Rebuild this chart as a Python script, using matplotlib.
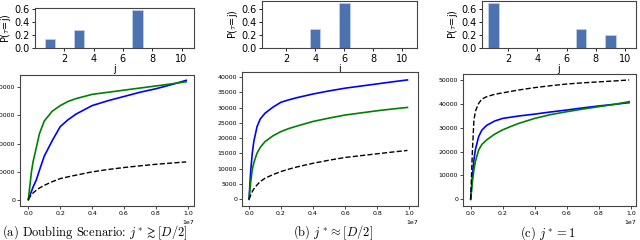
import numpy as np
import matplotlib
matplotlib.use("Agg")
import matplotlib.pyplot as plt

plt.rcParams['mathtext.fontset'] = 'cm'

# top row: P(tau = j)
bar_j_a = [1, 3, 7]
bar_p_a = [0.14, 0.28, 0.58]
bar_j_b = [4, 6]
bar_p_b = [0.30, 0.70]
bar_j_c = [1, 7, 9]
bar_p_c = [0.70, 0.30, 0.20]

# bottom row: curves (x in units of 1e7)
xs = [0, 0.01, 0.02, 0.03, 0.05, 0.07, 0.1, 0.15, 0.2, 0.25, 0.3, 0.4, 0.5, 0.6, 0.7, 0.8, 0.9, 0.99]

blue_a = [0, 3000, 6000, 9000, 14000, 21000, 31000, 42000, 52000, 57000, 61000, 67000, 70500, 73500, 76500, 79000, 82000, 85000]
green_a = [0, 10000, 20000, 27000, 37000, 47000, 56000, 63000, 67000, 70000, 72000, 75000, 76500, 78000, 79500, 81000, 82500, 84000]
black_a = [0, 2000, 3500, 4800, 6700, 8300, 10200, 12800, 15000, 16300, 17500, 19800, 21500, 22900, 24100, 25200, 26100, 26900]

blue_b = [0, 9000, 15000, 19000, 23800, 26300, 28200, 30200, 31800, 32600, 33300, 34500, 35500, 36400, 37100, 37800, 38500, 39100]
green_b = [0, 5500, 9600, 12000, 15100, 17000, 18900, 20800, 22200, 23200, 24000, 25500, 26600, 27600, 28300, 29000, 29600, 30100]
black_b = [0, 1300, 2500, 3400, 4700, 5800, 6900, 8100, 9100, 9900, 10600, 11800, 12800, 13700, 14300, 14900, 15500, 16000]

blue_c = [0, 9000, 16500, 21000, 26300, 29000, 31000, 32800, 33900, 34400, 34900, 35700, 36600, 37400, 38300, 39100, 39800, 40500]
green_c = [0, 7000, 12300, 16000, 20700, 23000, 24900, 27300, 29100, 30500, 31800, 33900, 35500, 36700, 37800, 38800, 39800, 40900]
black_c = [0, 19000, 33000, 37000, 40200, 42000, 43000, 44000, 44600, 45200, 45800, 46800, 47600, 48300, 48800, 49200, 49600, 50000]

captions = [r"(a) Doubling Scenario: $j^* \gtrsim [D/2]$",
            r"(b) $j^* \approx [D/2]$",
            r"(c) $j^* = 1$"]

W, H = 640, 240
fig = plt.figure(figsize=(6.4, 2.4), dpi=100)


def box(l, r, t, b):
    return [l / W, 1 - b / H, (r - l) / W, (b - t) / H]


top_boxes = [box(35, 194, 8, 48), box(262, 417, 1, 48), box(482, 636, 1, 48)]
top_xlim = [(0.0, 10.85), (0.32, 11.0), (0.22, 10.75)]
top_ylim = [0.615, 0.73, 0.73]
bars = [(bar_j_a, bar_p_a), (bar_j_b, bar_p_b), (bar_j_c, bar_p_c)]

for bx, xl, yl, (jj, pp) in zip(top_boxes, top_xlim, top_ylim, bars):
    ax = fig.add_axes(bx)
    ax.bar(jj, pp, width=0.7, color='#4c72b0', edgecolor='#c6d3ea', linewidth=0.5)
    ax.set_xlim(*xl)
    ax.set_ylim(0, yl)
    ax.set_xticks([2, 4, 6, 8, 10])
    ax.set_yticks(np.arange(0, yl, 0.2))
    ax.tick_params(labelsize=7, length=2.5, width=0.6, pad=1.5)
    ax.set_xlabel("j", fontsize=7, labelpad=0)
    ax.set_ylabel(r"P($\tau$=j)", fontsize=7, labelpad=1)
    for s in ax.spines.values():
        s.set_linewidth(0.8)
        s.set_color('#444444')

bot_boxes = [box(20, 194, 75, 206), box(242, 418, 72, 206), box(463, 636, 74, 206)]
bot_xlim = [(-0.052, 1.039), (-0.044, 1.056), (-0.048, 1.033)]
bot_ylim = [(-4500, 88800), (-2200, 41700), (-2800, 52500)]
bot_yticks = [np.arange(0, 80001, 20000), np.arange(0, 40001, 5000), np.arange(0, 50001, 10000)]
curves = [(blue_a, green_a, black_a), (blue_b, green_b, black_b), (blue_c, green_c, black_c)]
cap_x = [95, 333, 548]

x = np.array(xs) * 1e7
for bx, xl, yl, yt, (bl, gr, bk), cx, cap in zip(bot_boxes, bot_xlim, bot_ylim, bot_yticks,
                                                  curves, cap_x, captions):
    ax = fig.add_axes(bx)
    ax.plot(x, bl, color='b', lw=1.2)
    ax.plot(x, gr, color='g', lw=1.2)
    ax.plot(x, bk, 'k--', lw=1.0)
    ax.set_xlim(xl[0] * 1e7, xl[1] * 1e7)
    ax.set_ylim(*yl)
    ax.set_yticks(yt)
    ax.set_xticks(np.arange(0, 1.01, 0.2) * 1e7)
    ax.tick_params(labelsize=4.5, length=2, width=0.5, pad=1.5)
    ax.xaxis.get_offset_text().set_fontsize(4.5)
    for s in ax.spines.values():
        s.set_linewidth(0.8)
        s.set_color('#444444')
    fig.text(cx / W, 1 - 233 / H, cap, ha='center', va='center',
             fontsize=9, family='cmr10')

fig.savefig("out.png", dpi=100)
